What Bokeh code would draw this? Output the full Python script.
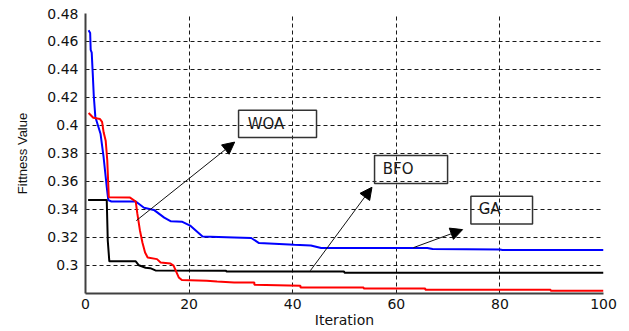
from bokeh.plotting import figure
from bokeh.models import (Range1d, FixedTicker, BoxAnnotation, Label, Arrow,
                          NormalHead)
from bokeh.embed import file_html
from bokeh.resources import INLINE

# ---- data ----
ga_x = [0.6, 0.9, 1.0, 1.2, 1.4, 1.6, 1.9, 2.9, 3.5, 4.1, 4.4, 5.0, 9.7, 11.3,
        13.2, 15.2, 16.5, 18.7, 20.3, 22.6, 28.7, 32.0, 33.5, 40.3, 43.5, 45.5,
        66.0, 67.0, 80.0, 80.5, 100]
ga_y = [0.468, 0.466, 0.454, 0.452, 0.437, 0.421, 0.406, 0.394, 0.377, 0.356,
        0.3465, 0.3455, 0.3455, 0.341, 0.3395, 0.334, 0.3313, 0.331, 0.328,
        0.3205, 0.3198, 0.3194, 0.3158, 0.3145, 0.314, 0.3122, 0.3122, 0.3115,
        0.3112, 0.3108, 0.3108]

woa_x = [0.6, 1.5, 2.8, 3.2, 3.5, 3.9, 4.2, 4.5, 8.6, 9.7, 10.0, 10.5, 11.0,
         11.5, 12.0, 13.8, 14.5, 16.4, 17.0, 18.0, 18.6, 23.4, 25.4, 28.7,
         32.6, 32.6, 41.5, 41.5, 53.7, 53.7, 65.6, 65.6, 89.8, 89.8, 100]
woa_y = [0.4088, 0.4054, 0.4045, 0.4025, 0.395, 0.389, 0.375, 0.3485, 0.3483,
         0.3455, 0.337, 0.325, 0.316, 0.309, 0.3055, 0.3043, 0.3019, 0.3012,
         0.2996, 0.2912, 0.2893, 0.2888, 0.2883, 0.2876, 0.2876, 0.2860,
         0.2852, 0.2840, 0.2840, 0.2833, 0.2833, 0.2824, 0.2824, 0.2816, 0.2816]

bfo_x = [0.5, 4.1, 4.3, 4.6, 9.7, 10.3, 11.6, 12.5, 13.5, 27.1, 27.2, 49.9, 50.0, 100]
bfo_y = [0.3466, 0.3466, 0.3174, 0.3027, 0.3027, 0.2999, 0.2981, 0.2978,
         0.2962, 0.2960, 0.2955, 0.2955, 0.2946, 0.2946]

x_ticks = [0, 20, 40, 60, 80, 100]
y_ticks = [0.30, 0.32, 0.34, 0.36, 0.38, 0.40, 0.42, 0.44, 0.46, 0.48]
y_tick_labels = ["0.3", "0.32", "0.34", "0.36", "0.38", "0.4", "0.42", "0.44",
                 "0.46", "0.48"]

# annotation layout: (label, box left, right, bottom, top, text x, text y,
#                     arrow start x, y, arrow end x, y)
notes = [
    ("WOA", 29.55, 44.6, 0.3913, 0.4107, 31.3, 0.4008, 9.8, 0.3318, 28.8, 0.388),
    ("BFO", 55.8, 69.9, 0.3583, 0.3784, 57.4, 0.3690, 43.4, 0.2960, 55.3, 0.3557),
    ("GA", 74.4, 86.3, 0.3295, 0.3492, 75.9, 0.3400, 63.3, 0.3125, 72.8, 0.3254),
]

p = figure(width=629, height=331, output_backend="svg", toolbar_location=None,
           x_range=Range1d(0, 100), y_range=Range1d(0.2797, 0.48),
           min_border_left=85, min_border_right=26, min_border_top=13,
           min_border_bottom=38)
p.background_fill_color = "white"
p.border_fill_color = "white"
p.outline_line_color = None

p.line(ga_x, ga_y, line_color="#0000ff", line_width=2)
p.line(bfo_x, bfo_y, line_color="#000000", line_width=2)
p.line(woa_x, woa_y, line_color="#ff0000", line_width=2)

for ax in (p.xaxis[0], p.yaxis[0]):
    ax.major_tick_out = 0
    ax.major_tick_in = 0
    ax.minor_tick_out = 0
    ax.minor_tick_in = 0
    ax.axis_line_color = "#404040"
    ax.axis_line_width = 2
    ax.major_label_text_font = "DejaVu Sans"
    ax.major_label_text_font_size = "14px"
    ax.major_label_text_color = "#111111"
    ax.axis_label_text_font_style = "normal"
    ax.axis_label_text_color = "#111111"

p.xaxis.ticker = FixedTicker(ticks=x_ticks)
p.yaxis.ticker = FixedTicker(ticks=y_ticks)
p.yaxis.major_label_overrides = dict(zip(y_ticks, y_tick_labels))
p.xaxis.major_label_standoff = 5
p.yaxis.major_label_standoff = 7
p.xaxis.axis_label = "Iteration"
p.xaxis.axis_label_text_font = "DejaVu Sans"
p.xaxis.axis_label_text_font_size = "14px"
p.xaxis.axis_label_standoff = 0
p.yaxis.axis_label = "Fittness Value"
p.yaxis.axis_label_text_font = "Liberation Sans"
p.yaxis.axis_label_text_font_size = "13px"
p.yaxis.axis_label_standoff = 14

for g in (p.xgrid[0], p.ygrid[0]):
    g.grid_line_color = "#000000"
    g.grid_line_dash = "4 3"
    g.grid_line_width = 1
    g.grid_line_alpha = 0.9

for (name, l, r, b, t, tx, ty, ax0, ay0, ax1, ay1) in notes:
    p.add_layout(BoxAnnotation(left=l, right=r, bottom=b, top=t,
                               fill_alpha=0, line_color="#333333",
                               line_width=1.5, line_alpha=1))
    p.add_layout(Label(x=tx, y=ty, text=name, text_font="DejaVu Sans",
                       text_font_size="15px", text_color="#1a1a1a",
                       text_baseline="middle", text_align="left"))
    p.add_layout(Arrow(x_start=ax0, y_start=ay0, x_end=ax1, y_end=ay1,
                       line_color="#111111", line_width=1,
                       end=NormalHead(size=12, fill_color="#000000",
                                      line_color="#000000", line_width=1)))

open("out.html", "w").write(file_html(p, INLINE))
